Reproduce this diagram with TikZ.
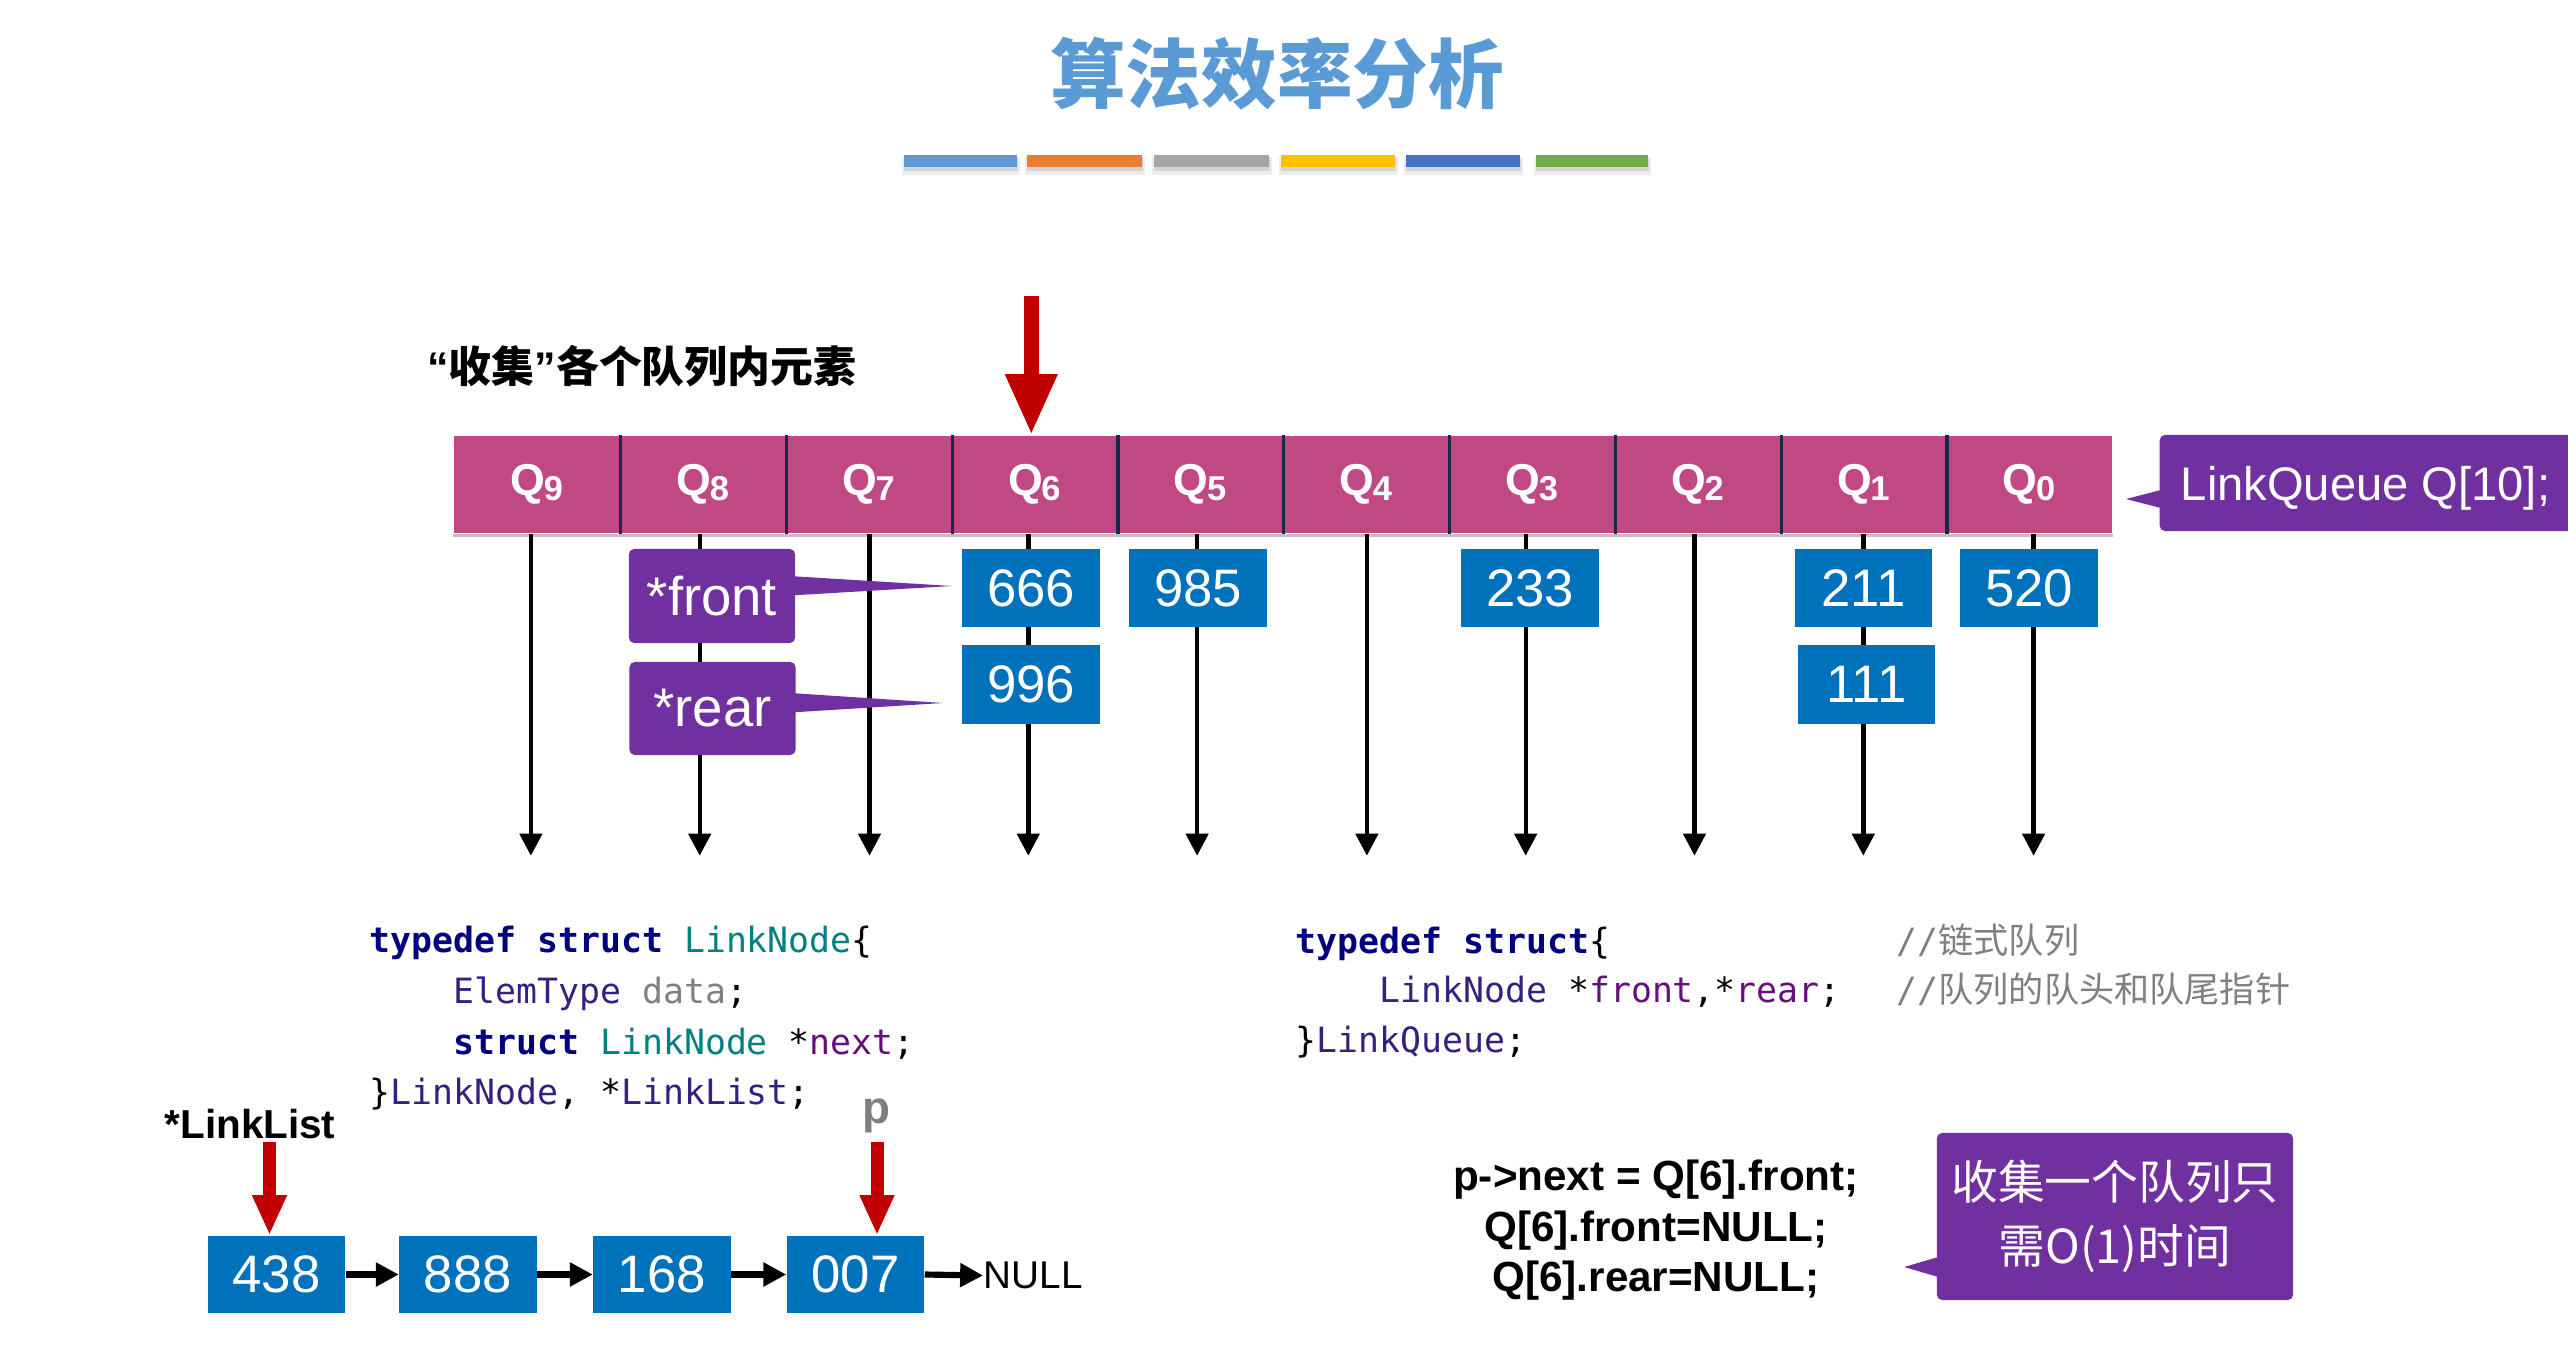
\documentclass[tikz,border=0pt]{standalone}
\usepackage{fontspec}
\setmainfont{Liberation Sans}
\setmonofont{DejaVu Sans Mono}
\newfontfamily\cjk{Noto Sans CJK SC}
\usetikzlibrary{arrows.meta,calc}

\definecolor{titleblue}{HTML}{5B9BD5}
\definecolor{barblue}{HTML}{5B9BD5}
\definecolor{barorange}{HTML}{ED7D31}
\definecolor{bargray}{HTML}{A5A5A5}
\definecolor{baryellow}{HTML}{FFC000}
\definecolor{bardblue}{HTML}{4472C4}
\definecolor{bargreen}{HTML}{70AD47}
\definecolor{qmagenta}{RGB}{192,73,132}
\definecolor{qdivider}{RGB}{25,40,75}
\definecolor{cellblue}{RGB}{0,114,187}
\definecolor{notepurple}{HTML}{7030A0}
\definecolor{ptrred}{HTML}{C00000}
\definecolor{kwnavy}{HTML}{000080}
\definecolor{typeteal}{HTML}{008080}
\definecolor{typeindigo}{HTML}{371F80}
\definecolor{fieldpurple}{HTML}{660E7A}
\definecolor{cmtgray}{HTML}{808080}
\definecolor{pgray}{HTML}{7F7F7F}

\newcommand\fsz[2]{\fontsize{#1}{#2}\selectfont}
\newcommand\qsub[1]{Q\kern-0.4pt{\fsz{9.8}{10}\raisebox{-1.5pt}{#1}}}

\begin{document}
\begin{tikzpicture}[x=0.01cm,y=-0.01cm,
  qcell/.style={fill=qmagenta,minimum width=1.658cm,minimum height=0.97cm,inner sep=0pt,text=white,font=\bfseries\fsz{12.7}{14}},
  qdiv/.style={draw=qdivider,line width=0.9pt},
  qline/.style={line width=1.25pt,-{Triangle[width=6.3pt,length=6.3pt]}},
  valbox/.style={fill=cellblue,minimum width=1.37cm,minimum height=0.78cm,inner sep=0pt,text=white,font=\fsz{15}{16}},
  notebox/.style={fill=notepurple,rounded corners=1.5pt,inner sep=0pt,text=white},
  ptrbig/.style={draw=ptrred,line width=4.3pt,-{Triangle[width=13.7pt,length=17.4pt]}},
  ptrsmall/.style={draw=ptrred,line width=3.7pt,-{Triangle[width=9.1pt,length=11.4pt]}},
  linkarrow/.style={draw=black,line width=1.75pt,-{Triangle[width=6.5pt,length=6.5pt]}},
  codeline/.style={anchor=base west,inner sep=0pt,font=\ttfamily\fsz{9.9}{14}},
  stmt/.style={anchor=base,inner sep=0pt,font=\bfseries\fsz{12}{14}},
]
\useasboundingbox (0,0) rectangle (2568,1354);
\fill[white] (0,0) rectangle (2568,1354);

% heading and colour strip
\node[font=\cjk\bfseries\fsz{21.5}{24},text=titleblue,inner sep=0pt] (title) at (1277,73.5) {算法效率分析};
\foreach \xa/\xb/\c in {904/1017/barblue,1027/1142/barorange,1154/1269/bargray,1281/1395/baryellow,1406/1520/bardblue,1536/1648/bargreen}{
  \fill[black,opacity=0.07] (\xa-2,157) rectangle (\xb+3,175);
  \fill[black,opacity=0.10] (\xa,158) rectangle (\xb+1,171);
  \fill[\c] (\xa,155) rectangle (\xb,167);
}

\node[font=\cjk\bfseries\fsz{12.2}{14},inner sep=0pt] (collect) at (642,366) {{\rmfamily “}收集{\rmfamily ”}各个队列内元素};

% the ten queues
\foreach \i [count=\k from 0] in {9,8,...,0}{
  \node[qcell] (q\i) at ({454+165.8*(\k+0.5)},484.5) {\qsub{\i}};
}
\foreach \i in {9,8,...,1}{
  \draw[qdiv] (q\i.north east) -- (q\i.south east);
}
\draw[black!25,line width=0.8pt] ($(q9.south west)+(0,1.5)$) -- ($(q0.south east)+(0,1.5)$);
\foreach \i/\dx in {9/-6,8/-3,7/1,6/-6,5/-3,4/1,3/-6,2/-3,1/0,0/4.5}{
  \coordinate (top\i) at ($(q\i.south)+(\dx,0)$);
  \coordinate (end\i) at ($(top\i)+(0,322)$);
  \draw[qline] (top\i) -- (end\i);
}

\coordinate (gather) at ($(q6.north)+(-3,-139)$);
\draw[ptrbig] (gather) -- (gather |- q6.north);

% queue contents
\node[valbox] (v666) at (1031,588) {666};
\node[valbox] (v996) at (1031,684.5) {996};
\node[valbox] (v985) at (1198,588) {985};
\node[valbox] (v233) at (1530,588) {233};
\node[valbox] (v211) at (1863.5,588) {211};
\node[valbox] (v111) at (1866.5,684.5) {111};
\node[valbox] (v520) at (2029,588) {520};

% front / rear pointers of Q[6]
\node[notebox,minimum width=1.66cm,minimum height=0.94cm,font=\fsz{15.5}{17}] (front) at (712,596) {*front};
\fill[notepurple] ($(front.north east)+(-2,28)$) -- ($(v666.west)+(-10,-2)$) -- ($(front.north east)+(-2,47)$) -- cycle;
\node[notebox,minimum width=1.66cm,minimum height=0.93cm,font=\fsz{15.5}{17}] (rear) at (712.5,708.5) {*rear};
\fill[notepurple] ($(rear.north east)+(-2,32)$) -- ($(v996.west)+(-19,18.5)$) -- ($(rear.north east)+(-2,51)$) -- cycle;

% declaration callout
\node[notebox,minimum width=4.4cm,minimum height=0.96cm,anchor=west] (lqbox) at (2159,483) {};
\fill[notepurple] ($(lqbox.west)+(2,7)$) -- ($(lqbox.west)+(-33,16)$) -- ($(lqbox.west)+(2,25)$) -- cycle;
\node[text=white,inner sep=0pt,anchor=base,font=\fsz{13.4}{15}] (lqtext) at (2365.5,500) {LinkQueue Q[10];};

% type declarations
\node[codeline] (c1) at (369,952) {{\color{kwnavy}\bfseries typedef struct} {\color{typeteal}LinkNode}\{};
\node[codeline] (c2) at (369,1003) {\phantom{xxxx}{\color{typeindigo}ElemType} {\color{cmtgray}data};};
\node[codeline] (c3) at (369,1054) {\phantom{xxxx}{\color{kwnavy}\bfseries struct} {\color{typeteal}LinkNode} *{\color{fieldpurple}next};};
\node[codeline] (c4) at (369,1104) {\}{\color{typeindigo}LinkNode}, *{\color{typeindigo}LinkList};};

\node[codeline] (d1) at (1295,953) {{\color{kwnavy}\bfseries typedef struct}\{};
\node[codeline] (d2) at (1295,1002) {\phantom{xxxx}{\color{typeindigo}LinkNode} *{\color{fieldpurple}front},*{\color{fieldpurple}rear};};
\node[codeline] (d3) at (1295,1052) {\}{\color{typeindigo}LinkQueue};};
\node[codeline,text=cmtgray] (k1) at (1896,953) {//{\cjk\fsz{10}{14}链式队列}};
\node[codeline,text=cmtgray] (k2) at (1896,1002) {//{\cjk\fsz{10}{14}队列的队头和队尾指针}};

% linked list being collected into
\node[valbox,minimum height=0.77cm] (l438) at (276.5,1274.5) {438};
\node[valbox,minimum height=0.77cm] (l888) at (468,1274.5) {888};
\node[valbox,minimum height=0.77cm] (l168) at (662,1274.5) {168};
\node[valbox,minimum height=0.77cm] (l007) at (855.5,1274.5) {007};
\node[anchor=west,inner sep=0pt,font=\fsz{11}{12}] (null) at (983,1275.5) {NULL};
\draw[linkarrow] (l438) -- (l888);
\draw[linkarrow] (l888) -- (l168);
\draw[linkarrow] (l168) -- (l007);
\draw[linkarrow] (l007.east) -- (null.west);

\node[font=\bfseries\fsz{11.5}{13},inner sep=0pt] (listname) at (250,1124) {*LinkList};
\coordinate (headptr) at (269.5,1142);
\draw[ptrsmall] (headptr) -- (headptr |- l438.north);
\node[font=\bfseries\fsz{13}{14},text=pgray,inner sep=0pt] (plabel) at (876,1116) {p};
\coordinate (pptr) at (877,1142);
\draw[ptrsmall] (pptr) -- (pptr |- l007.north);

% splice statements
\node[stmt] (s1) at (1656,1190) {p->next = Q[6].front;};
\node[stmt] (s2) at (1656,1241.5) {Q[6].front=NULL;};
\node[stmt] (s3) at (1656,1291.5) {Q[6].rear=NULL;};

\node[notebox,minimum width=3.56cm,minimum height=1.67cm,align=center,font=\cjk\fsz{13.3}{18.3}] (cost) at (2115,1216.5) {收集一个队列只\\需O(1)时间};
\fill[notepurple] ($(cost.west)+(2,40.5)$) -- ($(cost.west)+(-32,50.5)$) -- ($(cost.west)+(2,60.5)$) -- cycle;
\end{tikzpicture}
\end{document}
